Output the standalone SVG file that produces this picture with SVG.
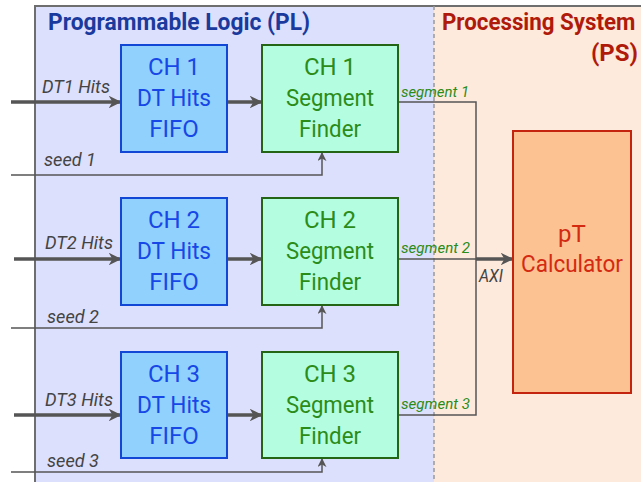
<svg xmlns="http://www.w3.org/2000/svg" width="641" height="482" viewBox="0 0 641 482">
<defs>
<style>
text{font-family:"Roboto","Liberation Sans",sans-serif}
.fifo rect{fill:#91d1fd;stroke:#1247d6;stroke-width:2}
.fifo text{fill:#1747e6;font-size:24px;text-anchor:middle}
.fnd rect{fill:#b4fde0;stroke:#236514;stroke-width:2}
.fnd text{fill:#2b8c18;font-size:24px;text-anchor:middle}
.lbl{font-style:italic;font-size:19px;fill:#444}
.seg{font-style:italic;font-size:15px;fill:#2b8c18}
.thick{stroke:#555;stroke-width:3.5;fill:none}
.thin{stroke:#555;stroke-width:1.5;fill:none}
</style>
<marker id="ah" viewBox="0 0 10 10" refX="9" refY="5" markerWidth="3.6" markerHeight="3.6" markerUnits="strokeWidth" orient="auto"><path d="M0,0L10,5L0,10L3,5z" fill="#555"/></marker>
<marker id="as" viewBox="0 0 10 10" refX="9" refY="5" markerWidth="6" markerHeight="6" markerUnits="strokeWidth" orient="auto"><path d="M0,0L10,5L0,10L3,5z" fill="#555"/></marker>
</defs>
<g id="pl-region">
<rect x="35" y="6" width="399" height="480" fill="#dde0fc"/>
<text x="48" y="30" font-size="24" font-weight="bold" fill="#1a3a9e" textLength="262" lengthAdjust="spacingAndGlyphs">Programmable Logic (PL)</text>
</g>
<g id="ps-region">
<rect x="434" y="6" width="210" height="480" fill="#fdeadc"/>
<text transform="translate(442,30) scale(0.93,1)" x="0" y="0" font-size="24" font-weight="bold" fill="#b01a0a">Processing System</text>
<text x="638" y="61" font-size="24" font-weight="bold" fill="#b01a0a" text-anchor="end">(PS)</text>
</g>
<g id="frame">
<path d="M35,482V6H641" stroke="#6e6e6e" stroke-width="2" fill="none"/>
<line x1="434" y1="6" x2="434" y2="482" stroke="#999" stroke-width="1.5" stroke-dasharray="4,3"/>
</g>
<g id="connectors">
<line class="thick" x1="11" y1="102" x2="120" y2="102" marker-end="url(#ah)"/>
<line class="thick" x1="227" y1="102" x2="261" y2="102" marker-end="url(#ah)"/>
<line class="thick" x1="14" y1="259" x2="120" y2="259" marker-end="url(#ah)"/>
<line class="thick" x1="227" y1="259" x2="261" y2="259" marker-end="url(#ah)"/>
<line class="thick" x1="14" y1="415" x2="120" y2="415" marker-end="url(#ah)"/>
<line class="thick" x1="227" y1="415" x2="261" y2="415" marker-end="url(#ah)"/>
<path class="thin" d="M11,175H322V153" marker-end="url(#as)"/>
<path class="thin" d="M11,328H322V306" marker-end="url(#as)"/>
<path class="thin" d="M11,472H322V459" marker-end="url(#as)"/>
<path class="thin" d="M398,102H476V415H398"/>
<line class="thin" x1="398" y1="259" x2="476" y2="259"/>
<line class="thick" x1="476" y1="259" x2="512" y2="259" marker-end="url(#ah)"/>
<text class="lbl" x="42" y="93" textLength="68" lengthAdjust="spacingAndGlyphs">DT1 Hits</text>
<text class="lbl" x="45" y="249" textLength="68" lengthAdjust="spacingAndGlyphs">DT2 Hits</text>
<text class="lbl" x="45" y="406" textLength="68" lengthAdjust="spacingAndGlyphs">DT3 Hits</text>
<text class="lbl" x="44" y="166" textLength="52" lengthAdjust="spacingAndGlyphs">seed 1</text>
<text class="lbl" x="47" y="323" textLength="52" lengthAdjust="spacingAndGlyphs">seed 2</text>
<text class="lbl" x="47" y="467" textLength="52" lengthAdjust="spacingAndGlyphs">seed 3</text>
<text class="seg" x="401" y="97" textLength="68" lengthAdjust="spacingAndGlyphs">segment 1</text>
<text class="seg" x="401" y="253" textLength="69" lengthAdjust="spacingAndGlyphs">segment 2</text>
<text class="seg" x="401" y="409" textLength="69" lengthAdjust="spacingAndGlyphs">segment 3</text>
<text class="lbl" x="479" y="282" font-size="15" fill="#333" textLength="24" lengthAdjust="spacingAndGlyphs">AXI</text>
</g>
<g id="fifo1" class="fifo"><rect x="121" y="45" width="106" height="107"/><text x="174" y="75">CH 1</text><text x="174" y="106" textLength="74" lengthAdjust="spacingAndGlyphs">DT Hits</text><text x="174" y="137">FIFO</text></g>
<g id="fifo2" class="fifo"><rect x="121" y="198" width="106" height="107"/><text x="174" y="228">CH 2</text><text x="174" y="259" textLength="74" lengthAdjust="spacingAndGlyphs">DT Hits</text><text x="174" y="290">FIFO</text></g>
<g id="fifo3" class="fifo"><rect x="121" y="352" width="106" height="106"/><text x="174" y="382">CH 3</text><text x="174" y="413" textLength="74" lengthAdjust="spacingAndGlyphs">DT Hits</text><text x="174" y="444">FIFO</text></g>
<g id="finder1" class="fnd"><rect x="262" y="45" width="136" height="107"/><text x="330" y="75">CH 1</text><text x="330" y="106" textLength="88" lengthAdjust="spacingAndGlyphs">Segment</text><text x="330" y="137" textLength="62" lengthAdjust="spacingAndGlyphs">Finder</text></g>
<g id="finder2" class="fnd"><rect x="262" y="198" width="136" height="107"/><text x="330" y="228">CH 2</text><text x="330" y="259" textLength="88" lengthAdjust="spacingAndGlyphs">Segment</text><text x="330" y="290" textLength="62" lengthAdjust="spacingAndGlyphs">Finder</text></g>
<g id="finder3" class="fnd"><rect x="262" y="352" width="136" height="106"/><text x="330" y="382">CH 3</text><text x="330" y="413" textLength="88" lengthAdjust="spacingAndGlyphs">Segment</text><text x="330" y="444" textLength="62" lengthAdjust="spacingAndGlyphs">Finder</text></g>
<g id="pt-calc"><rect x="513" y="131" width="118" height="262" fill="#fdc292" stroke="#c4240e" stroke-width="2"/><text x="572" y="242" font-size="24" fill="#d42a12" text-anchor="middle">pT</text><text x="572" y="272" font-size="24" fill="#d42a12" text-anchor="middle" textLength="102" lengthAdjust="spacingAndGlyphs">Calculator</text></g>
</svg>
